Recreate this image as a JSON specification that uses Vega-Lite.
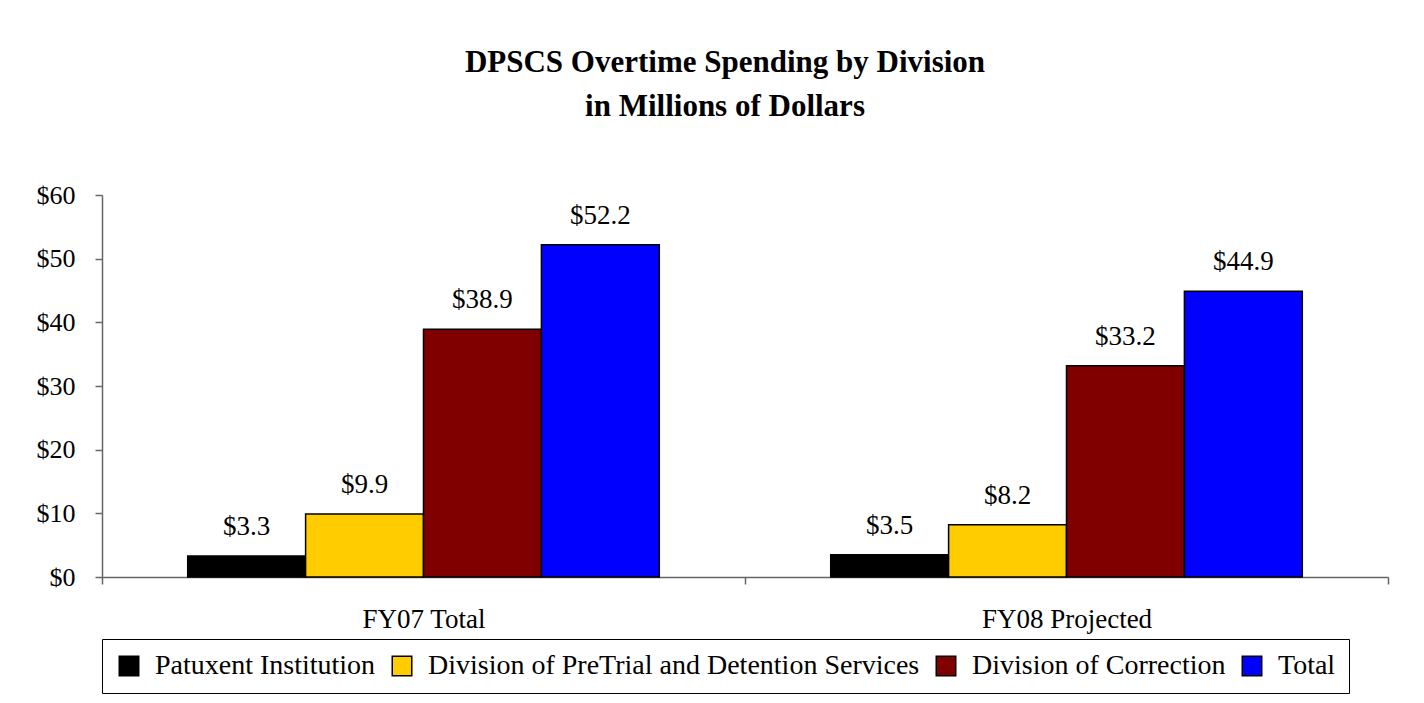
{
  "$schema": "https://vega.github.io/schema/vega-lite/v6.json",
  "width": 1424,
  "height": 703,
  "autosize": {"type": "fit", "contains": "padding"},
  "padding": {"left": 36, "top": 47, "right": 35, "bottom": 9},
  "background": "white",
  "title": {
    "text": ["DPSCS Overtime Spending by Division", "in Millions of Dollars"],
    "font": "Liberation Serif",
    "fontSize": 31,
    "fontWeight": "bold",
    "lineHeight": 44,
    "anchor": "middle",
    "dx": -20,
    "offset": 59,
    "color": "black"
  },
  "data": {
    "values": [
      {"period": "FY07 Total", "division": "Patuxent Institution", "value": 3.3},
      {"period": "FY07 Total", "division": "Division of PreTrial and Detention Services", "value": 9.9},
      {"period": "FY07 Total", "division": "Division of Correction", "value": 38.9},
      {"period": "FY07 Total", "division": "Total", "value": 52.2},
      {"period": "FY08 Projected", "division": "Patuxent Institution", "value": 3.5},
      {"period": "FY08 Projected", "division": "Division of PreTrial and Detention Services", "value": 8.2},
      {"period": "FY08 Projected", "division": "Division of Correction", "value": 33.2},
      {"period": "FY08 Projected", "division": "Total", "value": 44.9}
    ]
  },
  "encoding": {
    "x": {
      "field": "period",
      "type": "nominal",
      "sort": ["FY07 Total", "FY08 Projected"],
      "scale": {"paddingInner": 0, "paddingOuter": 0},
      "axis": {
        "title": null,
        "labelAngle": 0,
        "tickBand": "extent",
        "labelFont": "Liberation Serif",
        "labelFontSize": 27,
        "labelColor": "black",
        "labelPadding": 22,
        "domainColor": "#666666",
        "tickColor": "#666666",
        "tickSize": 7,
        "domainWidth": 1.5,
        "tickWidth": 1.5
      }
    },
    "xOffset": {
      "field": "division",
      "type": "nominal",
      "sort": ["Patuxent Institution", "Division of PreTrial and Detention Services", "Division of Correction", "Total"],
      "scale": {"paddingInner": 0, "paddingOuter": 0.727}
    },
    "y": {
      "field": "value",
      "type": "quantitative",
      "scale": {"domain": [0, 60]},
      "axis": {
        "title": null,
        "grid": false,
        "values": [0, 10, 20, 30, 40, 50, 60],
        "labelExpr": "'$' + datum.value",
        "labelFont": "Liberation Serif",
        "labelFontSize": 26,
        "labelColor": "black",
        "labelPadding": 20,
        "domainColor": "#666666",
        "tickColor": "#666666",
        "tickSize": 7,
        "domainWidth": 1.5,
        "tickWidth": 1.5
      }
    }
  },
  "layer": [
    {
      "mark": {"type": "bar", "stroke": "black", "strokeWidth": 1.5},
      "encoding": {
        "color": {
          "field": "division",
          "type": "nominal",
          "sort": ["Patuxent Institution", "Division of PreTrial and Detention Services", "Division of Correction", "Total"],
          "scale": {
            "domain": ["Patuxent Institution", "Division of PreTrial and Detention Services", "Division of Correction", "Total"],
            "range": ["#000000", "#FFCC00", "#800000", "#0000FF"]
          },
          "legend": {
            "title": null,
            "orient": "bottom",
            "direction": "horizontal",
            "strokeColor": "black",
            "padding": 13,
            "offset": 7,
            "symbolType": "square",
            "symbolSize": 380,
            "symbolStrokeColor": "black",
            "symbolStrokeWidth": 1.5,
            "symbolOpacity": 1,
            "labelFont": "Liberation Serif",
            "labelFontSize": 28,
            "labelColor": "black",
            "labelOffset": 12,
            "columnPadding": 12,
            "labelLimit": 0
          }
        }
      }
    },
    {
      "mark": {"type": "text", "baseline": "alphabetic", "dy": -21, "font": "Liberation Serif", "fontSize": 27, "color": "black"},
      "encoding": {
        "text": {"field": "value", "type": "quantitative", "format": "$.1f"}
      }
    }
  ],
  "config": {"view": {"stroke": null}}
}
